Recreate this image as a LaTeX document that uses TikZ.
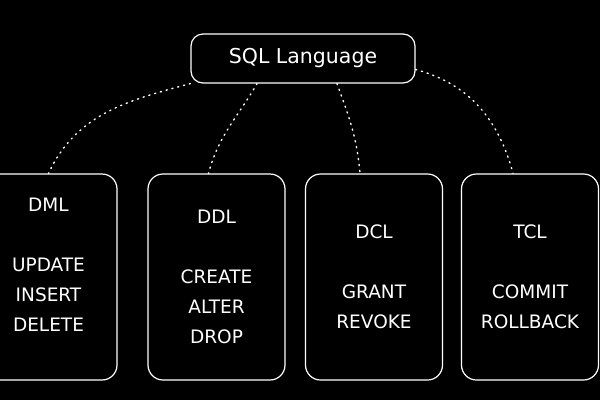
\documentclass[tikz,border=0pt]{standalone}
\usepackage{fontspec}
\setmainfont{DejaVu Sans}
\usepackage{tikz}
\usetikzlibrary{positioning}
\tikzset{>=stealth}

\begin{document}
\begin{tikzpicture}[x=1pt, y=-1pt, thick,
    root/.style={draw=white, line width=1.2pt, rounded corners=12pt, minimum width=224pt, minimum height=49pt, text=white, font=\fontsize{20.5}{24}\selectfont},
    group/.style={draw=white, line width=1.2pt, rounded corners=15pt, minimum width=137pt, minimum height=206pt, align=center, text=white, font=\fontsize{18.5}{30}\selectfont},
    link/.style={draw=white, line width=1.4pt, line cap=round, dash pattern=on 1.2pt off 4.8pt}]
  \fill[black] (0,0) rectangle (600,400);
  \useasboundingbox (0,0) rectangle (600,400);
  \node[root]	(SQL)	at	(303,58.5)	{SQL Language};
  \node[group]	(DML)	at	(48.5,277)	{DML\\[30pt]UPDATE\\INSERT\\DELETE\\[-6pt]\mbox{}};
  \node[group]	(DDL)	at	(216.5,277)	{DDL\\[30pt]CREATE\\ALTER\\DROP};
  \node[group]	(DCL)	at	(374,277)	{DCL\\[30pt]GRANT\\REVOKE};
  \node[group]	(TCL)	at	(530,277)	{TCL\\[30pt]COMMIT\\ROLLBACK};
  \draw[link] (SQL.south west) to [out=195, in=65] (DML.north);
  \draw[link] ([xshift=-46pt]SQL.south) to [out=240, in=75] ([xshift=-8pt]DDL.north);
  \draw[link] ([xshift=34pt]SQL.south) to [out=-70, in=95] ([xshift=-14pt]DCL.north);
  \draw[link] ([yshift=-11pt]SQL.east) to [out=-15, in=105] ([xshift=-17pt]TCL.north);
\end{tikzpicture}
\end{document}
